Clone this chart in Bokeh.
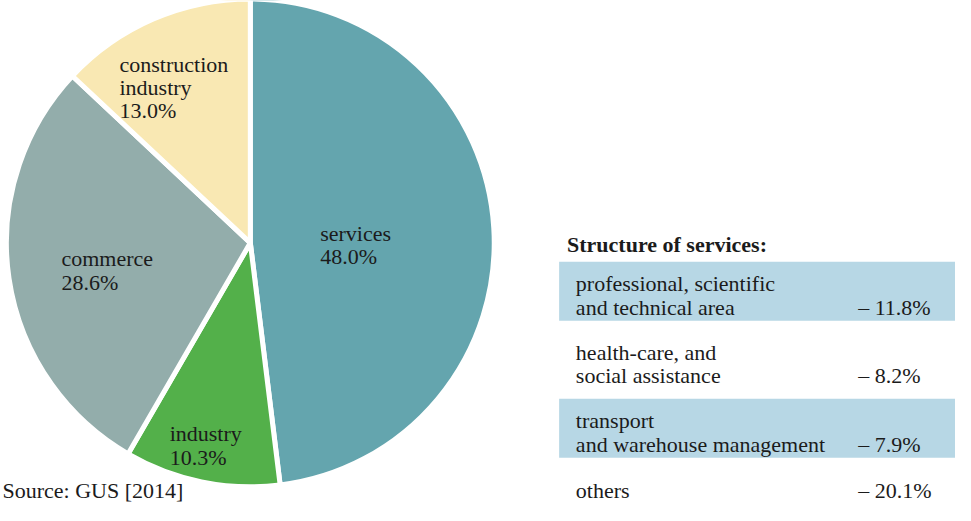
import math
from bokeh.plotting import figure
from bokeh.models import Range1d, ColumnDataSource
from bokeh.core.properties import value
from bokeh.embed import file_html
from bokeh.resources import INLINE

# ---- data ----
sectors = ["services", "industry", "commerce", "construction\nindustry"]
shares = [48.0, 10.3, 28.6, 13.0]
sector_colors = ["#64a5ae", "#53b04a", "#93adab", "#f9e8b3"]

sub_labels = [
    "professional, scientific\nand technical area",
    "health-care, and\nsocial assistance",
    "transport\nand warehouse management",
    "others",
]
sub_values = [11.8, 8.2, 7.9, 20.1]
table_title = "Structure of services:"
source_text = "Source: GUS [2014]"

# ---- layout (reference-page coordinates, 971 x 521, y measured from top) ----
W, H = 955, 505
REF_W, REF_H = 971, 521
TOP_CUT, BOTTOM = 9, 531
FONT = "Liberation Serif"
FS = "22px"
TXT = "#1b1b1b"

def Y(py):
    return REF_H - py

cx, cy, R = 254, 259.5, 248
label_anchor = {  # left x, first baseline y
    "services": (325, 250),
    "industry": (172, 457),
    "commerce": (62, 276),
    "construction\nindustry": (121, 75),
}
LH = 24

p = figure(width=W, height=H, output_backend="svg", toolbar_location=None,
           x_range=Range1d(0, REF_W),
           y_range=Range1d(Y(BOTTOM), Y(TOP_CUT)),
           min_border=0, outline_line_color=None, tools="")
p.axis.visible = False
p.grid.visible = False
p.background_fill_color = "white"
p.border_fill_color = "white"

# pie
total = sum(shares)
starts, ends = [], []
cum = 0.0
for s in shares:
    a0 = math.pi / 2 - 2 * math.pi * cum / total
    cum += s
    a1 = math.pi / 2 - 2 * math.pi * cum / total
    starts.append(a1)
    ends.append(a0)
src = ColumnDataSource(dict(start=starts, end=ends, color=sector_colors))
p.wedge(x=cx, y=Y(cy), radius=R, start_angle="start", end_angle="end",
        fill_color="color", line_color="white", line_width=5, source=src)

# pie labels
lx, ly, lt = [], [], []
for name, s in zip(sectors, shares):
    x0, y0 = label_anchor[name]
    lines = name.split("\n") + [f"{s:.1f}%"]
    for i, ln in enumerate(lines):
        lx.append(x0)
        ly.append(Y(y0 + i * LH))
        lt.append(ln)
p.text(x=lx, y=ly, text=lt, text_font=value(FONT), text_font_size=FS,
       text_color=TXT, text_baseline="alphabetic", text_align="left")

# table
row_top0, row_pitch, band_h = 279, 70.8, 61
band_l, band_r = 568, 980
bl, br, bt, bb = [], [], [], []
tx, ty, tt = [], [], []
vx, vy, vt = [], [], []
for i, (lab, v) in enumerate(zip(sub_labels, sub_values)):
    top = row_top0 + i * row_pitch
    if i % 2 == 0:
        bl.append(band_l); br.append(band_r)
        bt.append(Y(top)); bb.append(Y(top + band_h))
    lines = lab.split("\n")
    off = 23 if len(lines) == 2 else 24
    for j, ln in enumerate(lines):
        tx.append(585); ty.append(Y(top + off + j * LH)); tt.append(ln)
    vx.append(872); vy.append(Y(top + off + (len(lines) - 1) * LH))
    vt.append(f"\u2013 {v:.1f}%")
p.quad(left=bl, right=br, top=bt, bottom=bb, fill_color="#b7d7e5", line_color=None)
p.text(x=tx, y=ty, text=tt, text_font=value(FONT), text_font_size=FS,
       text_color=TXT, text_baseline="alphabetic")
p.text(x=vx, y=vy, text=vt, text_font=value(FONT), text_font_size=FS,
       text_color=TXT, text_baseline="alphabetic")
p.text(x=[576], y=[Y(261)], text=[table_title], text_font=value(FONT),
       text_font_size=FS, text_font_style="bold", text_color=TXT,
       text_baseline="alphabetic")

# source note at the lower left
p.text(x=[2], y=[Y(515)], text=[source_text], text_font=value(FONT),
       text_font_size=FS, text_color=TXT, text_baseline="alphabetic")

open("out.html", "w").write(file_html(p, INLINE))
